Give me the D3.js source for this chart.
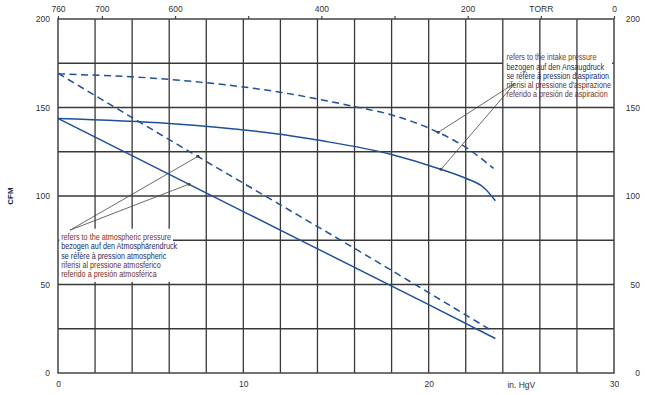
<!DOCTYPE html>
<html>
<head>
<meta charset="utf-8">
<script src="https://cdn.jsdelivr.net/npm/d3@7"></script>
<style>
  body { margin: 0; background: #fff; }
  svg { display: block; font-family: "Liberation Sans", Arial, sans-serif; }
  .tick text { fill: #333; font-size: 8.5px; }
  .note { font-family: "Liberation Sans", Arial, sans-serif; font-size: 8.6px; }
</style>
</head>
<body>
<svg width="645" height="395"></svg>
<script>
// in. HgV on x, CFM on y
const intakeSolid  = [[0,143.8],[6,141],[12.2,134.6],[14,131.6],[18,123.5],[20.6,115.3],[22,110],[23.0,104.5],[23.6,97.3]];
const intakeDashed = [[0,169],[6,165.9],[12,158.6],[16,150.5],[18,145.8],[20.5,136],[22,127.5],[23.5,115.6]];
const atmSolid     = [[0,143.8],[10,91.2],[20,38.6],[23.6,19.5]];
const atmDashed    = [[0,169.3],[4,144.3],[8,119.5],[12,95],[16,70.4],[20,45.4],[23.5,23.3]];

const xTicks = [0, 10, 20, 30];
const yTicks = [0, 50, 100, 150, 200];
const torrTicks = [760, 700, 600, 500, 400, 300, 200, 100, 0];
const torrLabels = {760: "760", 700: "700", 600: "600", 400: "400", 200: "200", 100: "TORR", 0: "0"};

const atmNote = ["refers to the atmospheric pressure", "bezogen auf den Atmosphärendruck",
  "se réfère à pression atmospheric", "riferisi al pressione atmosferico", "referido a presión atmosférica"];
const intakeNote = ["refers to the intake pressure", "bezogen auf den Ansaugdruck",
  "se réfère à pression d'aspiration", "riferisi al pressione d'aspirazione", "referido a presión de aspiracion"];
const noteColors = ["#7a3520", "#1e2a5c", "#1e2a5c", "#5e3328", "#6e331f"];

var svg = d3.select("svg"),
    margin = {top: 19, right: 31, bottom: 22, left: 58},
    width = +svg.attr("width") - margin.left - margin.right,
    height = +svg.attr("height") - margin.top - margin.bottom;

var g = svg.append("g")
    .attr("transform", "translate(" + margin.left + "," + margin.top + ")");

var x = d3.scaleLinear().domain([0, 30]).range([0, width]);
var y = d3.scaleLinear().domain([0, 200]).range([height, 0]);
var torr = d3.scaleLinear().domain([760, 0]).range([0, width]);

const blue = "#1f4f99";
const gridColor = "#383838";

// horizontal grid
g.append("g").selectAll("line")
  .data(d3.range(25, 200, 25))
  .join("line")
  .attr("x1", 0).attr("x2", width)
  .attr("y1", d => y(d)).attr("y2", d => y(d))
  .attr("stroke", gridColor).attr("stroke-width", 1.3);

// box behind intake note (vertical lines show through it)
g.append("rect")
  .attr("x", x(24.0)).attr("y", y(182))
  .attr("width", x(29.9) - x(24.0)).attr("height", y(155) - y(182))
  .attr("fill", "#fff");

// vertical grid
g.append("g").selectAll("line")
  .data(d3.range(2, 30, 2))
  .join("line")
  .attr("x1", d => x(d)).attr("x2", d => x(d))
  .attr("y1", 0).attr("y2", height)
  .attr("stroke", gridColor).attr("stroke-width", 1.3);

// frame
g.append("rect")
  .attr("width", width).attr("height", height)
  .attr("fill", "none").attr("stroke", "#444").attr("stroke-width", 1.5);

// box behind atmospheric note
g.append("rect")
  .attr("x", x(0.07)).attr("y", y(81.5))
  .attr("width", x(6.2) - x(0.07)).attr("height", y(51.5) - y(81.5))
  .attr("fill", "#fff");

// axes
g.append("g")
  .attr("transform", "translate(0," + height + ")")
  .call(d3.axisBottom(x).tickValues(xTicks).tickSize(0).tickPadding(8).tickFormat(d3.format("d")))
  .call(a => a.select(".domain").remove());

g.append("g")
  .call(d3.axisLeft(y).tickValues(yTicks).tickSize(0).tickPadding(8))
  .call(a => a.select(".domain").remove());

g.append("g")
  .attr("transform", "translate(" + width + ",0)")
  .call(d3.axisRight(y).tickValues(yTicks).tickSize(0).tickPadding(26))
  .call(a => a.select(".domain").remove())
  .selectAll("text").attr("text-anchor", "end");

g.append("g")
  .call(d3.axisTop(torr).tickValues(torrTicks).tickSize(3).tickPadding(4)
    .tickFormat(d => torrLabels[d] || ""))
  .call(a => a.select(".domain").remove())
  .call(a => a.selectAll(".tick line").attr("stroke", "#444").attr("stroke-width", 1.2));

g.append("text")
  .attr("x", x(25)).attr("y", height + 14.5)
  .attr("text-anchor", "middle")
  .attr("font-size", "8.5px").attr("fill", "#333")
  .text("in. HgV");

svg.append("text")
  .attr("transform", "translate(13," + (margin.top + y(100)) + ") rotate(-90)")
  .attr("text-anchor", "middle")
  .attr("font-size", "8px").attr("font-weight", "bold").attr("fill", "#1c2850")
  .text("CFM");

// curves
var line = d3.line().x(d => x(d[0])).y(d => y(d[1])).curve(d3.curveMonotoneX);

[[intakeSolid, false], [intakeDashed, true], [atmSolid, false], [atmDashed, true]].forEach(function (s) {
  g.append("path")
    .datum(s[0])
    .attr("d", line)
    .attr("fill", "none")
    .attr("stroke", blue)
    .attr("stroke-width", 1.5)
    .attr("stroke-dasharray", s[1] ? "7,4.5" : null);
});

// leader lines
const leaders = [
  {from: [0.65, 80.7], to: [[7.55, 122.4], [7.07, 106.7]]},
  {from: [24.66, 163.8], to: [[20.52, 136], [20.67, 115.1]]}
];
leaders.forEach(function (l) {
  l.to.forEach(function (t) {
    g.append("line")
      .attr("x1", x(l.from[0])).attr("y1", y(l.from[1]))
      .attr("x2", x(t[0])).attr("y2", y(t[1]))
      .attr("stroke", "#444").attr("stroke-width", 0.8);
    g.append("circle")
      .attr("cx", x(t[0])).attr("cy", y(t[1])).attr("r", 1.5)
      .attr("fill", "#444");
  });
});

// notes, squeezed horizontally like the condensed face in the original
function note(lines, x0, yTop) {
  var t = g.append("text").attr("class", "note")
    .attr("transform", "translate(" + x0 + "," + yTop + ") scale(0.84,1)");
  lines.forEach(function (s, i) {
    t.append("tspan")
      .attr("x", 0).attr("y", i * 9.2)
      .attr("fill", noteColors[i])
      .text(s);
  });
}
note(atmNote, x(0.17), y(81.5) + 11.5);
note(intakeNote, x(24.2), y(182) + 9.5);
</script>
</body>
</html>
